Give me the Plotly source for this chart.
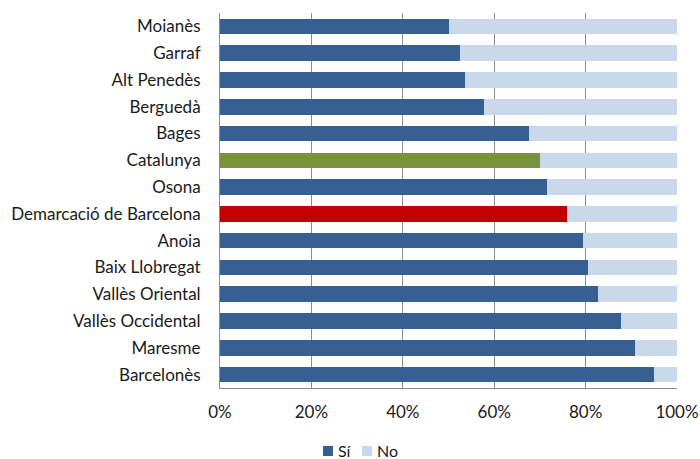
import plotly.graph_objects as go

categories = ["Moianès", "Garraf", "Alt Penedès", "Berguedà", "Bages", "Catalunya", "Osona",
              "Demarcació de Barcelona", "Anoia", "Baix Llobregat", "Vallès Oriental",
              "Vallès Occidental", "Maresme", "Barcelonès"]
si_values = [50.0, 52.5, 53.7, 57.7, 67.7, 70.0, 71.6, 76.0, 79.4, 80.5, 82.8, 87.7, 90.9, 95.0]
no_values = [round(100 - v, 1) for v in si_values]
tick_vals = [0, 20, 40, 60, 80, 100]
tick_text = ["0%", "20%", "40%", "60%", "80%", "100%"]
series_names = ["Sí", "No"]

base_color = "#376092"
no_color = "#C9D8EB"
special = {"Catalunya": "#77933C", "Demarcació de Barcelona": "#C00000"}
si_colors = [special.get(c, base_color) for c in categories]

W, H = 700, 459
L, R, T, B = 220, 23, 13, 71
pw, ph = W - L - R, H - T - B


def px_x(p):
    return (p - L) / pw


def px_y(p):
    return (H - B - p) / ph


fig = go.Figure()
fig.add_trace(go.Bar(y=categories, x=si_values, orientation="h", name=series_names[0],
                     marker=dict(color=si_colors, line=dict(width=0)), showlegend=False))
fig.add_trace(go.Bar(y=categories, x=no_values, orientation="h", name=series_names[1],
                     marker=dict(color=no_color, line=dict(width=0)), showlegend=False))

# manual legend (compact, like the original)
legend_items = [(series_names[0], base_color, 323), (series_names[1], no_color, 362)]
for name, col, x0 in legend_items:
    fig.add_shape(type="rect", xref="paper", yref="paper",
                  x0=px_x(x0), x1=px_x(x0 + 10), y0=px_y(456), y1=px_y(446),
                  fillcolor=col, line=dict(width=0))
    fig.add_annotation(xref="paper", yref="paper", x=px_x(x0 + 13), y=px_y(450),
                       text=name, showarrow=False, xanchor="left", yanchor="middle",
                       font=dict(size=16))

fig.update_layout(
    barmode="stack",
    bargap=0.42,
    width=W, height=H,
    margin=dict(l=L, r=R, t=T, b=B, autoexpand=False),
    paper_bgcolor="white", plot_bgcolor="white",
    font=dict(family="Lato, Carlito, sans-serif", size=17, color="#1a1a1a"),
    showlegend=False,
)
fig.update_xaxes(range=[0, 100], tickvals=tick_vals, ticktext=tick_text,
                 showgrid=True, gridcolor="#8C8C8C", gridwidth=1,
                 showline=True, linecolor="#8C8C8C", zeroline=False,
                 ticks="", ticklabelstandoff=9, automargin=False, fixedrange=True)
fig.update_yaxes(categoryorder="array", categoryarray=categories[::-1],
                 showline=True, linecolor="#8C8C8C", ticks="", ticklabelstandoff=15,
                 automargin=False, showgrid=False)
fig.write_html("out.html", config={"displayModeBar": False},
               post_script="document.body.style.margin='0px';document.body.style.padding='0px';")
